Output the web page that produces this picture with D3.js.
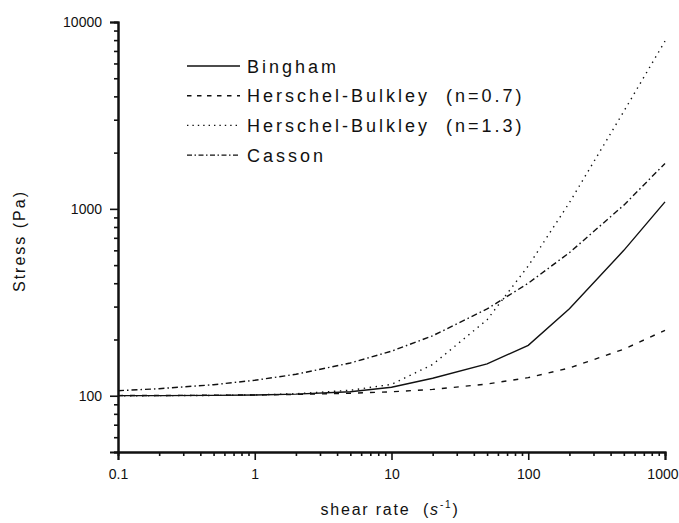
<!DOCTYPE html>
<html>
<head>
<meta charset="utf-8">
<script src="https://cdn.jsdelivr.net/npm/d3@7/dist/d3.min.js"></script>
<style>
  html, body { margin: 0; padding: 0; background: #fff; }
  svg { display: block; }
  text { font-family: "Liberation Sans", Arial, sans-serif; fill: #111; white-space: pre; }
</style>
</head>
<body>
<svg id="chart" width="679" height="523"></svg>
<script>
// Shear rate samples (1/s)
const shearRate = [0.1, 0.2, 0.5, 1, 2, 5, 10, 20, 50, 100, 200, 500, 1000];

// Stress (Pa) for each rheological model
const bingham   = [100.1, 100.2, 100.5, 101, 102, 105, 111, 124, 148, 186, 292, 600, 1090];
const hb07      = [100.2, 100.3, 100.6, 101, 101.6, 103.1, 105, 108.1, 115.5, 125, 140.8, 177.5, 224];
const hb13      = [100.05, 100.1, 100.4, 101, 102.5, 107, 115, 147, 255, 495, 1080, 3326, 7900];
const casson    = [106.4, 109.1, 114.6, 121, 130.3, 149.7, 173.2, 209.4, 291.4, 400, 582.8, 1047, 1750];

const seriesNames = ["Bingham", "Herschel-Bulkley  (n=0.7)", "Herschel-Bulkley  (n=1.3)", "Casson"];
const seriesValues = [bingham, hb07, hb13, casson];
const seriesDash = [null, "5,7", "1.4,4.6", "6,3,1.5,3"];
const legendDash = [null, "4.5,5.5", "1.4,4", "5,2.5,1.5,2.5"];

const xTickValues = [0.1, 1, 10, 100, 1000];
const xTickLabels = ["0.1", "1", "10", "100", "1000"];
const yTickValues = [100, 1000, 10000];
const yTickLabels = ["100", "1000", "10000"];

const svg = d3.select("#chart");

const x = d3.scaleLog().domain([0.1, 1000]).range([118, 665]);
const y = d3.scaleLog().domain([50, 10000]).range([452, 22]);

// minor ticks on the log axes
const xMinor = [];
[0.1, 1, 10, 100].forEach(d => { for (let k = 2; k <= 9; k++) xMinor.push(d * k); });
const yMinor = [];
[10, 100, 1000].forEach(d => { for (let k = 2; k <= 9; k++) { const v = d * k; if (v >= 50 && v <= 10000) yMinor.push(v); } });

// X axis
const gx = svg.append("g").attr("transform", "translate(0,452)");
gx.call(d3.axisBottom(x).tickValues(xMinor).tickSize(4).tickFormat(""));
gx.call(g => g.append("g").call(d3.axisBottom(x).tickValues(xTickValues).tickSize(8).tickFormat((d, i) => xTickLabels[i])));
gx.selectAll(".domain").attr("stroke", "#111").attr("stroke-width", 2);
gx.selectAll("line").attr("stroke", "#111").attr("stroke-width", 1.6);
gx.selectAll("text").attr("font-size", 14).attr("dy", "0").attr("y", 27).attr("fill", "#111");
// keep the last label inside the frame
gx.selectAll(".tick text").filter(d => d === 1000).attr("text-anchor", "end").attr("x", 13);

// Y axis
const gy = svg.append("g").attr("transform", "translate(118,0)");
gy.call(d3.axisLeft(y).tickValues(yMinor).tickSize(4).tickFormat(""));
gy.call(g => g.append("g").call(d3.axisLeft(y).tickValues(yTickValues).tickSize(8).tickFormat((d, i) => yTickLabels[i])));
gy.selectAll(".domain").attr("stroke", "#111").attr("stroke-width", 2);
gy.selectAll("line").attr("stroke", "#111").attr("stroke-width", 1.6);
gy.selectAll("text").attr("font-size", 14).attr("x", -16).attr("dy", "0.35em").attr("fill", "#111");

// Curves
const line = d3.line().x((d, i) => x(shearRate[i])).y(d => y(d));
seriesValues.forEach((vals, s) => {
  svg.append("path")
    .datum(vals)
    .attr("d", line)
    .attr("fill", "none")
    .attr("stroke", "#111")
    .attr("stroke-width", 1.4)
    .attr("stroke-dasharray", seriesDash[s]);
});

// Legend
const legend = svg.append("g");
seriesNames.forEach((name, i) => {
  const yy = 66 + i * 29.7;
  legend.append("line")
    .attr("x1", 187).attr("x2", 240).attr("y1", yy).attr("y2", yy)
    .attr("stroke", "#111").attr("stroke-width", 1.4)
    .attr("stroke-dasharray", legendDash[i]);
  legend.append("text")
    .attr("x", 247).attr("y", yy + 6.5)
    .attr("font-size", 18).attr("letter-spacing", "3px")
    .text(name);
});

// Axis titles
svg.append("text")
  .attr("transform", "translate(25,241) rotate(-90)")
  .attr("text-anchor", "middle")
  .attr("font-size", 16).attr("letter-spacing", "2px")
  .text("Stress (Pa)");

const xt = svg.append("text")
  .attr("x", 390).attr("y", 515)
  .attr("text-anchor", "middle")
  .attr("font-size", 16).attr("letter-spacing", "1.8px");
xt.append("tspan").text("shear rate  (");
xt.append("tspan").attr("font-style", "italic").text("s");
xt.append("tspan").attr("font-size", 10).attr("dy", -7).text("-1");
xt.append("tspan").attr("dy", 7).text(")");
</script>
</body>
</html>
